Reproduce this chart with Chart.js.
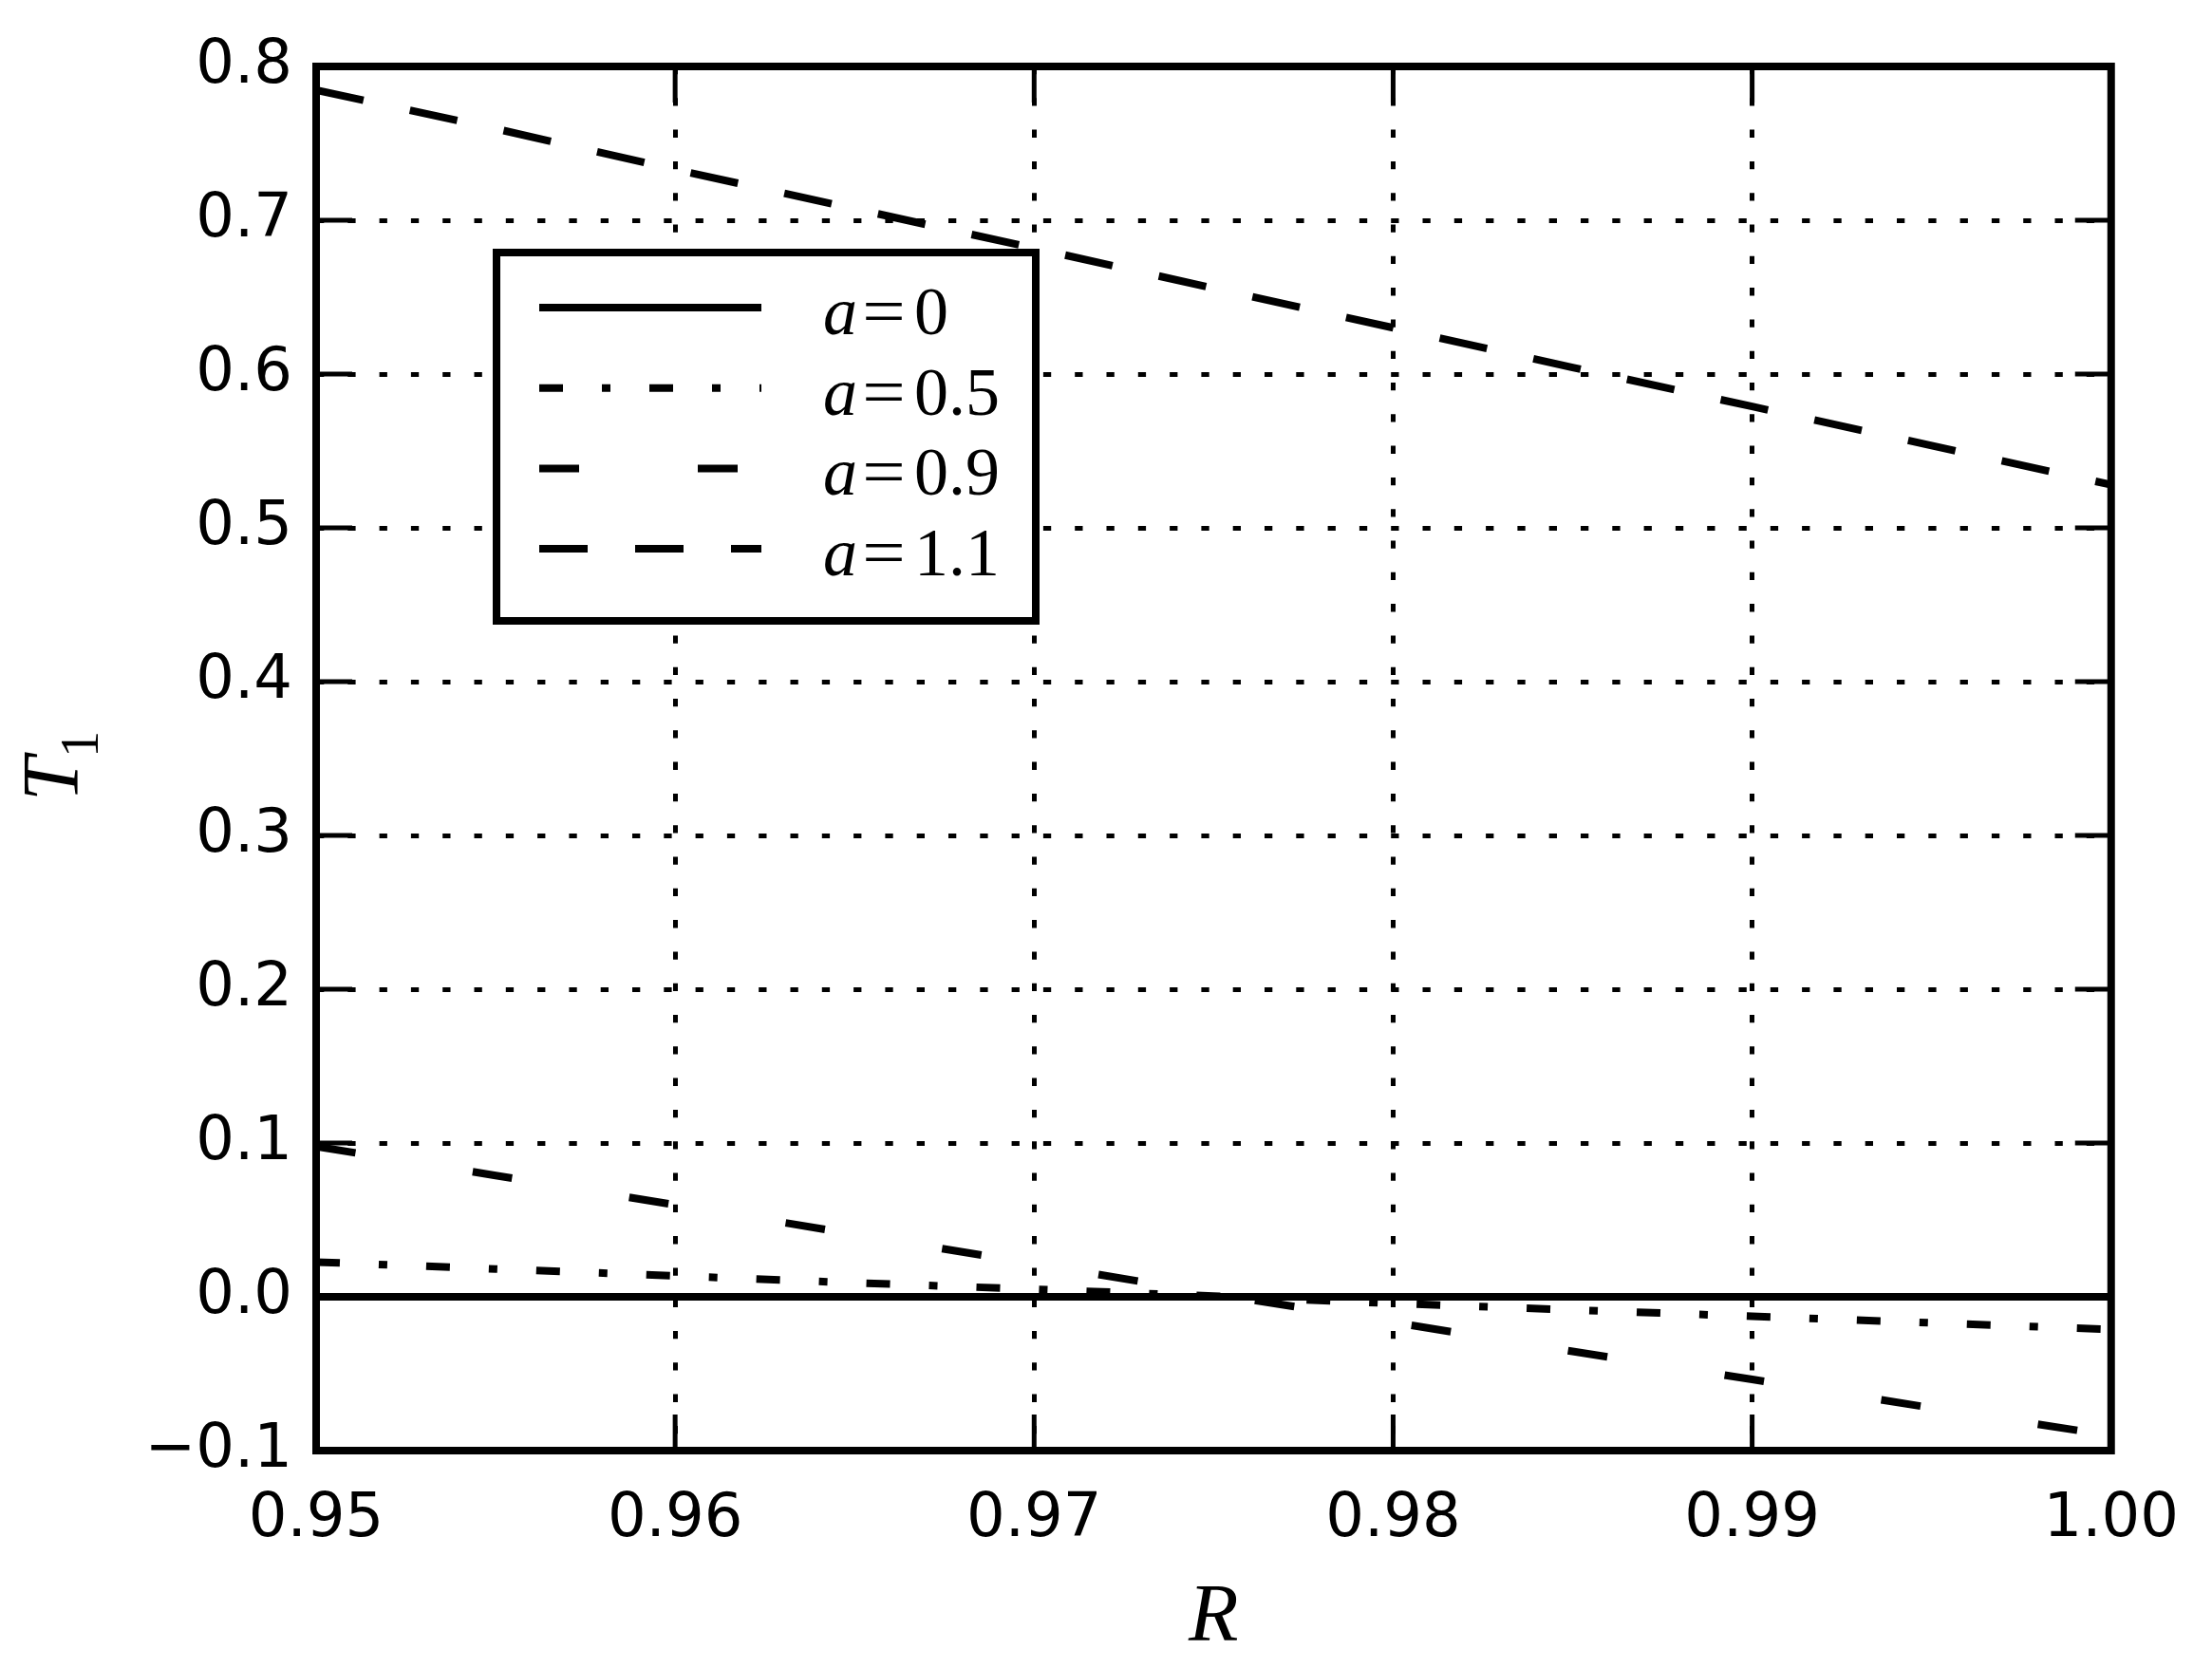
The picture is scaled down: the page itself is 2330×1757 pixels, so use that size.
<!DOCTYPE html>
<html>
<head>
<meta charset="utf-8">
<title>T1 vs R</title>
<script src="https://cdn.jsdelivr.net/npm/chart.js@4.4.0/dist/chart.umd.min.js"></script>
<style>
  html, body { margin: 0; padding: 0; background: #fff; }
  canvas { display: block; }
</style>
</head>
<body>
<canvas id="chart" width="2330" height="1757"></canvas>
<script>
// values
const R_VALUES = [0.950, 0.955, 0.960, 0.965, 0.970, 0.975, 0.980, 0.985, 0.990, 0.995, 1.000];
const T1_A0  = [0, 0, 0, 0, 0, 0, 0, 0, 0, 0, 0];
const T1_A05 = [0.0226, 0.0181, 0.0136, 0.0091, 0.0049, 0.0005, -0.0043, -0.0085, -0.0127, -0.0169, -0.0212];
const T1_A09 = [0.0977, 0.0789, 0.0598, 0.0407, 0.0215, 0.0020, -0.0166, -0.0355, -0.0537, -0.0722, -0.0902];
const T1_A11 = [0.7847, 0.7595, 0.7330, 0.7075, 0.6818, 0.6558, 0.6301, 0.6043, 0.5789, 0.5535, 0.5280];
const A_LABELS = ['0', '0.5', '0.9', '1.1'];
const X_TICKS = [0.95, 0.96, 0.97, 0.98, 0.99, 1.00];
const Y_TICKS = [-0.1, 0.0, 0.1, 0.2, 0.3, 0.4, 0.5, 0.6, 0.7, 0.8];

const LINE_DASHES = [[], [25, 41, 9, 41], [42, 125], [51, 50]];
const TICK_LEN = 38;

function toPoints(vals) {
    return R_VALUES.map((r, i) => ({ x: r, y: vals[i] }));
}

const datasets = [T1_A0, T1_A05, T1_A09, T1_A11].map((vals, i) => ({
    label: 'a=' + A_LABELS[i],
    data: toPoints(vals),
    borderColor: '#000',
    borderWidth: 8,
    borderDash: LINE_DASHES[i],
    pointRadius: 0,
    tension: 0,
    fill: false
}));

// matplotlib-like frame, inward ticks, legend box and y label
const mplPlugin = {
    id: 'mplExtras',
    afterDraw(chart) {
        const { ctx, chartArea: area, scales } = chart;
        ctx.save();
        ctx.strokeStyle = '#000';
        ctx.fillStyle = '#000';

        // ticks on all four sides, pointing inside
        ctx.lineWidth = 5;
        ctx.setLineDash([]);
        ctx.beginPath();
        scales.x.ticks.forEach(t => {
            const px = scales.x.getPixelForValue(t.value);
            ctx.moveTo(px, area.bottom); ctx.lineTo(px, area.bottom - TICK_LEN);
            ctx.moveTo(px, area.top); ctx.lineTo(px, area.top + TICK_LEN);
        });
        scales.y.ticks.forEach(t => {
            const py = scales.y.getPixelForValue(t.value);
            ctx.moveTo(area.left, py); ctx.lineTo(area.left + TICK_LEN, py);
            ctx.moveTo(area.right, py); ctx.lineTo(area.right - TICK_LEN, py);
        });
        ctx.stroke();

        ctx.lineWidth = 8;
        ctx.strokeRect(area.left, area.top, area.right - area.left, area.bottom - area.top);

        // legend
        const bx = area.left + 190, by = area.top + 196;
        const bw = 568, bh = 388;
        ctx.fillStyle = '#fff';
        ctx.fillRect(bx, by, bw, bh);
        ctx.lineWidth = 8;
        ctx.strokeRect(bx, by, bw, bh);
        ctx.fillStyle = '#000';
        ctx.textBaseline = 'alphabetic';
        chart.data.datasets.forEach((ds, i) => {
            const ly = by + 58 + i * 84.7;
            ctx.save();
            ctx.lineWidth = ds.borderWidth;
            ctx.setLineDash(ds.borderDash);
            ctx.beginPath();
            ctx.moveTo(bx + 45, ly);
            ctx.lineTo(bx + 279, ly);
            ctx.stroke();
            ctx.restore();

            const base = ly + 28;
            ctx.textAlign = 'left';
            ctx.font = 'italic 72px "Liberation Serif"';
            ctx.fillText('a', bx + 344, base);
            // wide math-style equals sign
            ctx.save();
            ctx.translate(bx + 408, base);
            ctx.scale(1.12, 1);
            ctx.font = '72px "Liberation Serif"';
            ctx.textAlign = 'center';
            ctx.fillText('=', 0, 0);
            ctx.restore();
            ctx.font = '72px "Liberation Serif"';
            ctx.textAlign = 'left';
            ctx.fillText(A_LABELS[i], bx + 440, base);
        });

        // y axis label T_1
        ctx.save();
        ctx.translate(82, 844);
        ctx.rotate(-Math.PI / 2);
        ctx.textAlign = 'left';
        ctx.textBaseline = 'alphabetic';
        ctx.font = 'italic 84px "Liberation Serif"';
        ctx.fillText('T', 0, 0);
        ctx.font = '56px "Liberation Serif"';
        ctx.fillText('1', 46, 21);
        ctx.restore();

        ctx.restore();
    }
};

const tickFont = { family: 'DejaVu Sans', size: 64 };

new Chart(document.getElementById('chart'), {
    type: 'line',
    data: { datasets: datasets },
    options: {
        responsive: false,
        animation: false,
        layout: { padding: { left: 0, top: 70, right: 97, bottom: 0 } },
        plugins: {
            legend: { display: false },
            tooltip: { enabled: false }
        },
        scales: {
            x: {
                type: 'linear',
                min: 0.95,
                max: 1.0,
                afterBuildTicks: scale => { scale.ticks = X_TICKS.map(v => ({ value: v })); },
                afterFit: scale => { scale.height = 229; },
                ticks: {
                    color: '#000',
                    font: tickFont,
                    padding: 35,
                    maxRotation: 0,
                    callback: v => v.toFixed(2)
                },
                grid: { color: '#000', lineWidth: 5, drawTicks: false },
                border: { display: false, dash: [8.3, 25] },
                title: {
                    display: true,
                    text: 'R',
                    color: '#000',
                    font: { family: 'Liberation Serif', size: 86, style: 'italic' },
                    padding: { top: 0, bottom: 0 }
                }
            },
            y: {
                type: 'linear',
                min: -0.1,
                max: 0.8,
                afterBuildTicks: scale => { scale.ticks = Y_TICKS.map(v => ({ value: v })); },
                afterFit: scale => { scale.width = 333; },
                ticks: {
                    color: '#000',
                    font: tickFont,
                    padding: 25,
                    callback: v => v.toFixed(1).replace('-', '\u2212')
                },
                grid: { color: '#000', lineWidth: 5, drawTicks: false },
                border: { display: false, dash: [8.3, 25] }
            }
        }
    },
    plugins: [mplPlugin]
});
</script>
</body>
</html>
